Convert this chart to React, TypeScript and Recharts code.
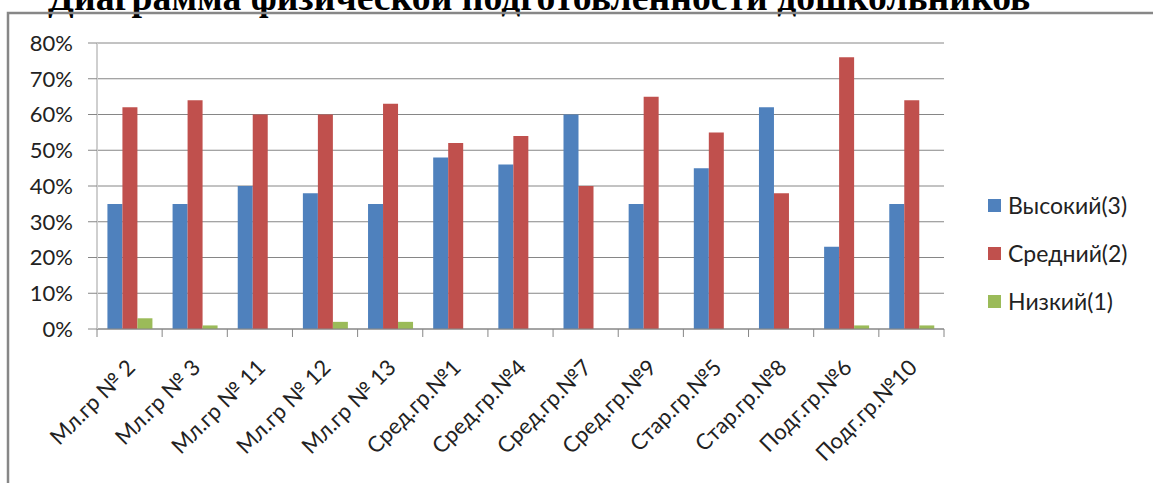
import { BarChart, Bar, XAxis, YAxis, CartesianGrid, Legend } from "recharts";

const groups = [
  "Мл.гр № 2",
  "Мл.гр № 3",
  "Мл.гр № 11",
  "Мл.гр № 12",
  "Мл.гр № 13",
  "Сред.гр.№1",
  "Сред.гр.№4",
  "Сред.гр.№7",
  "Сред.гр.№9",
  "Стар.гр.№5",
  "Стар.гр.№8",
  "Подг.гр.№6",
  "Подг.гр.№10",
];
const seriesNames = ["Высокий(3)", "Средний(2)", "Низкий(1)"];
const high = [35, 35, 40, 38, 35, 48, 46, 60, 35, 45, 62, 23, 35];
const mid = [62, 64, 60, 60, 63, 52, 54, 40, 65, 55, 38, 76, 64];
const low = [3, 1, 0, 2, 2, 0, 0, 0, 0, 0, 0, 1, 1];
const yTicks = [0, 10, 20, 30, 40, 50, 60, 70, 80];

const title = "Диаграмма физической подготовленности дошкольников";

const data = groups.map((name, i) => ({
  name,
  high: high[i],
  mid: mid[i],
  low: low[i],
}));

const W = 1153;
const H = 483;
const FONT = "Lato, 'Noto Sans', sans-serif";
const GRID = "#868686";

function GroupTick(props: any) {
  const { x, y, payload, index } = props;
  const half = payload?.offset ?? 0;
  const last = index === groups.length - 1;
  return (
    <g>
      <line x1={x - half} x2={x - half} y1={y} y2={y + 8} stroke={GRID} />
      {last && <line x1={x + half} x2={x + half} y1={y} y2={y + 8} stroke={GRID} />}
      <text
        transform={`translate(${x + 7},${y + 40}) rotate(-45)`}
        textAnchor="end"
        fontFamily={FONT}
        fontSize={22}
        fill="#222"
      >
        {payload.value}
      </text>
    </g>
  );
}

// keep the legend in series order (Recharts sorts it by name otherwise)
function LegendBox(props: any) {
  const items = [...(props.payload || [])].sort(
    (a: any, b: any) => seriesNames.indexOf(a.value) - seriesNames.indexOf(b.value)
  );
  return (
    <div>
      {items.map((p: any) => (
        <div
          key={p.value}
          style={{ display: "flex", alignItems: "center", height: 48, fontFamily: FONT, fontSize: 23, color: "#222" }}
        >
          <span style={{ width: 13, height: 13, background: p.color, marginRight: 7, display: "inline-block" }} />
          {p.value}
        </div>
      ))}
    </div>
  );
}

export default function App() {
  return (
    <div style={{ position: "absolute", left: 0, top: 0, width: W, height: H, overflow: "hidden", background: "#fff" }}>
      <svg width={W} height={H} style={{ position: "absolute", left: 0, top: 0 }}>
        <text x={48} y={10} fontFamily="'Liberation Serif', serif" fontWeight="bold" fontSize={37.7} fill="#000">
          {title}
        </text>
        <rect x={8} y={13} width={W + 20} height={H + 20} fill="none" stroke="#878787" strokeWidth={2.5} />
      </svg>
      <div style={{ position: "absolute", left: 0, top: 0 }}>
        <BarChart
          width={W}
          height={H}
          data={data}
          margin={{ top: 43, right: 209, bottom: 0, left: 0 }}
          barCategoryGap="16%"
          barGap={0}
        >
          <CartesianGrid vertical={false} stroke={GRID} />
          <XAxis
            dataKey="name"
            height={154}
            interval={0}
            tickSize={0}
            tickMargin={0}
            tickLine={false}
            axisLine={{ stroke: GRID }}
            tick={<GroupTick />}
          />
          <YAxis
            width={97}
            domain={[0, 80]}
            ticks={yTicks}
            tickFormatter={(v: number) => `${v}%`}
            tickSize={9}
            tickMargin={15}
            tickLine={{ stroke: GRID }}
            axisLine={{ stroke: "#cfcfcf", strokeWidth: 2 }}
            tick={{ fontFamily: FONT, fontSize: 22, fill: "#222" }}
          />
          <Legend
            layout="vertical"
            align="center"
            verticalAlign="middle"
            wrapperStyle={{ left: 988, top: 181, width: 165 }}
            content={<LegendBox />}
          />
          <Bar dataKey="high" name={seriesNames[0]} fill="#4F81BD" isAnimationActive={false} />
          <Bar dataKey="mid" name={seriesNames[1]} fill="#C0504D" isAnimationActive={false} />
          <Bar dataKey="low" name={seriesNames[2]} fill="#9BBB59" isAnimationActive={false} />
        </BarChart>
      </div>
    </div>
  );
}
